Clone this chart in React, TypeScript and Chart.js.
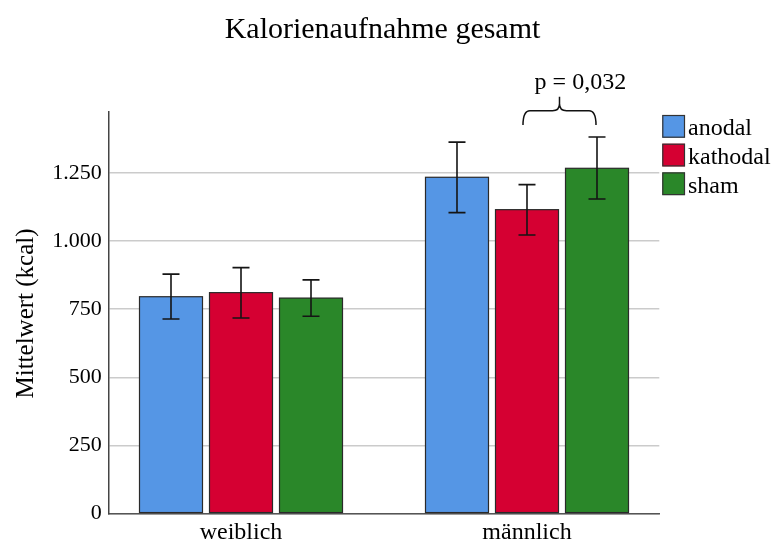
import React, { useEffect, useRef } from 'react';
import { Chart, registerables } from 'chart.js';

Chart.register(...registerables);

// Mean calorie intake (kcal) per gender group and stimulation condition
const groups = ['weiblich', 'männlich'];
const seriesNames = ['anodal', 'kathodal', 'sham'];
const anodalMean = [796, 1235];
const kathodalMean = [811, 1116];
const shamMean = [791, 1268];

// Error bar limits
const anodalLow = [714, 1105];
const anodalHigh = [879, 1364];
const kathodalLow = [718, 1023];
const kathodalHigh = [903, 1208];
const shamLow = [724, 1155];
const shamHigh = [858, 1383];

const yTicks = [0, 250, 500, 750, 1000, 1250];
const yMax = 1476;
const pLabel = 'p = 0,032';
const titleText = 'Kalorienaufnahme gesamt';
const yTitle = 'Mittelwert (kcal)';

const colors = ['#5596E5', '#D50032', '#2A8729'];
const FONT = '"Liberation Serif", "Times New Roman", serif';

const fmt = (v: number) =>
  v >= 1000 ? `${Math.floor(v / 1000)}.${String(v % 1000).padStart(3, '0')}` : String(v);

const decorations = {
  id: 'decorations',
  afterDatasetsDraw(chart: any) {
    const ctx = chart.ctx as CanvasRenderingContext2D;
    const y = chart.scales.y;
    ctx.save();
    // bar outlines
    ctx.strokeStyle = '#2a2a2a';
    ctx.lineWidth = 1.2;
    chart.data.datasets.forEach((_: any, di: number) => {
      const meta = chart.getDatasetMeta(di);
      meta.data.forEach((el: any) => {
        const w = el.width;
        ctx.strokeRect(el.x - w / 2, el.y, w, el.base - el.y);
      });
    });

    // error bars
    ctx.strokeStyle = '#151515';
    ctx.lineWidth = 1.6;
    chart.data.datasets.forEach((ds: any, di: number) => {
      const meta = chart.getDatasetMeta(di);
      meta.data.forEach((el: any, i: number) => {
        const x = el.x;
        const yt = y.getPixelForValue(ds.errHigh[i]);
        const yb = y.getPixelForValue(ds.errLow[i]);
        const cap = 8.5;
        ctx.beginPath();
        ctx.moveTo(x, yt);
        ctx.lineTo(x, yb);
        ctx.moveTo(x - cap, yt);
        ctx.lineTo(x + cap, yt);
        ctx.moveTo(x - cap, yb);
        ctx.lineTo(x + cap, yb);
        ctx.stroke();
      });
    });

    // significance brace between kathodal and sham (männlich)
    const left = chart.getDatasetMeta(1).data[1].x - 4;
    const right = chart.getDatasetMeta(2).data[1].x - 1;
    const mid = (left + right) / 2;
    const top = chart.chartArea.top;
    const legY = top + 13.3;
    const barY = top - 1;
    const tipY = top - 15;
    const r = 7;
    ctx.strokeStyle = '#111';
    ctx.lineWidth = 1.5;
    ctx.beginPath();
    ctx.moveTo(left, legY);
    ctx.quadraticCurveTo(left, barY, left + r, barY);
    ctx.lineTo(mid - r, barY);
    ctx.quadraticCurveTo(mid, barY, mid, barY - r);
    ctx.lineTo(mid, tipY);
    ctx.moveTo(mid, barY - r);
    ctx.quadraticCurveTo(mid, barY, mid + r, barY);
    ctx.lineTo(right - r, barY);
    ctx.quadraticCurveTo(right, barY, right, legY);
    ctx.stroke();

    ctx.fillStyle = '#000';
    ctx.font = `24px ${FONT}`;
    ctx.textAlign = 'left';
    ctx.textBaseline = 'alphabetic';
    ctx.fillText(pLabel, left + 11.6, top - 22.4);
    ctx.restore();
  },
  afterDraw(chart: any) {
    const ctx = chart.ctx as CanvasRenderingContext2D;
    const area = chart.chartArea;
    ctx.save();
    ctx.fillStyle = '#000';

    // title
    ctx.font = `30px ${FONT}`;
    ctx.textAlign = 'center';
    ctx.textBaseline = 'alphabetic';
    ctx.fillText(titleText, 382.5, 38.3);

    // y axis title
    ctx.save();
    ctx.translate(32.5, (area.top + area.bottom) / 2 + 1);
    ctx.rotate(-Math.PI / 2);
    ctx.font = `25px ${FONT}`;
    ctx.textAlign = 'center';
    ctx.fillText(yTitle, 0, 0);
    ctx.restore();

    // legend
    const bx = area.right + 3;
    const size = 22.7;
    const step = 28.7;
    ctx.font = `24px ${FONT}`;
    ctx.textAlign = 'left';
    seriesNames.forEach((name, i) => {
      const by = area.top + 3.3 + i * step;
      ctx.fillStyle = colors[i];
      ctx.fillRect(bx, by, size, size);
      ctx.strokeStyle = '#333';
      ctx.lineWidth = 1.2;
      ctx.strokeRect(bx + 0.5, by + 0.5, size - 1, size - 1);
      ctx.fillStyle = '#000';
      ctx.fillText(name, bx + size + 3, by + size - 2.5);
    });
    ctx.restore();
  },
};

const means = [anodalMean, kathodalMean, shamMean];
const lows = [anodalLow, kathodalLow, shamLow];
const highs = [anodalHigh, kathodalHigh, shamHigh];

export default function App() {
  const canvasRef = useRef<HTMLCanvasElement | null>(null);

  useEffect(() => {
    if (!canvasRef.current) return;
    const chart = new Chart(canvasRef.current, {
      type: 'bar',
      data: {
        datasets: seriesNames.map((name, si) => ({
          label: name,
          data: means[si].map((v, gi) => ({ x: gi, y: v })),
          errLow: lows[si],
          errHigh: highs[si],
          backgroundColor: colors[si],
          borderWidth: 0,
          categoryPercentage: 0.7343,
          barPercentage: 0.9,
        })) as any,
      },
      options: {
        responsive: false,
        animation: false,
        devicePixelRatio: 1,
        layout: { padding: { left: 8.7, top: 111.7, right: 117.7, bottom: 0 } },
        plugins: {
          legend: { display: false },
          title: { display: false },
          tooltip: { enabled: false },
        },
        scales: {
          x: {
            type: 'linear',
            offset: false,
            min: -0.4626,
            max: 1.4626,
            afterBuildTicks: (scale: any) => {
              scale.ticks = groups.map((_, i) => ({ value: i }));
            },
            afterFit: (scale: any) => {
              scale.height = 31.7;
            },
            grid: { display: false, drawTicks: false, offset: false },
            border: { display: true, color: '#555', width: 1.5 },
            ticks: {
              padding: 5,
              color: '#000',
              font: { family: FONT, size: 24 },
              callback: (v: any) => groups[Math.round(Number(v))] ?? '',
            },
          },
          y: {
            min: 0,
            max: yMax,
            afterBuildTicks: (scale: any) => {
              scale.ticks = yTicks.map((v) => ({ value: v }));
            },
            afterFit: (scale: any) => {
              scale.width = 100;
            },
            grid: { color: '#cbcbcb', lineWidth: 1.5, drawTicks: false },
            border: { display: true, color: '#444', width: 1.5 },
            ticks: {
              padding: 7,
              color: '#000',
              font: { family: FONT, size: 22 },
              callback: (v: any) => fmt(Number(v)),
            },
          },
        },
      },
      plugins: [decorations],
    } as any);
    return () => chart.destroy();
  }, []);

  return (
    <div style={{ position: 'absolute', left: 0, top: 0, width: 777, height: 545, background: '#fff' }}>
      <canvas ref={canvasRef} width={777} height={545} />
    </div>
  );
}
